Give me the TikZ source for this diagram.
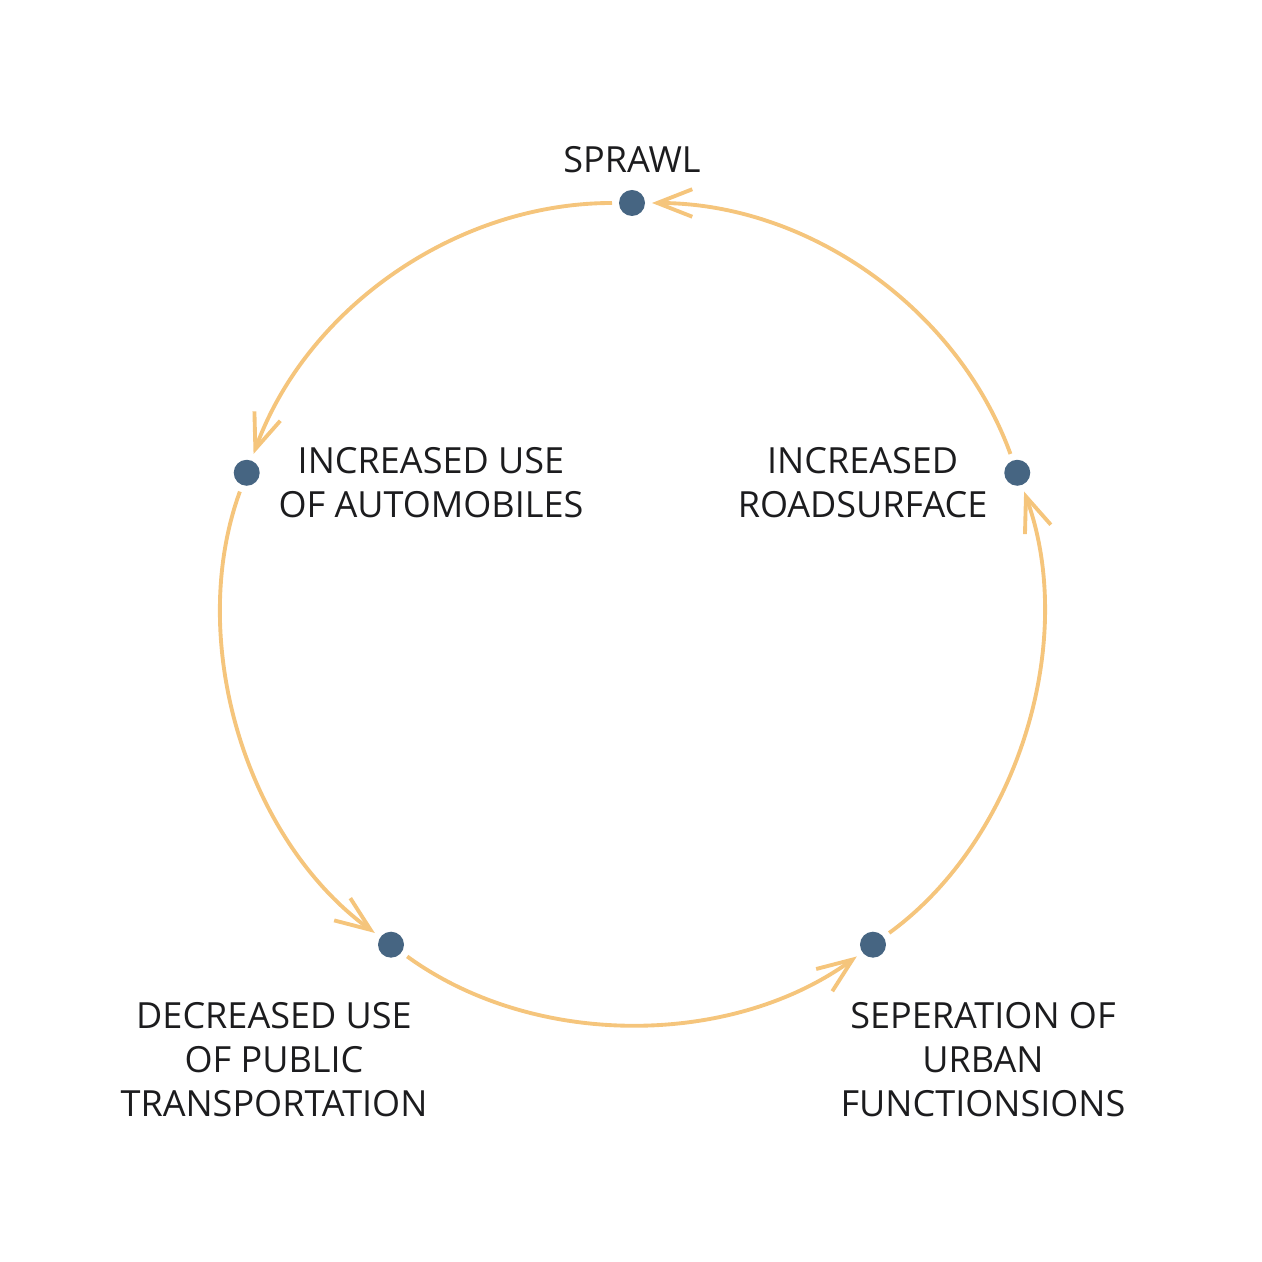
\documentclass[tikz,border=0pt]{standalone}
\usepackage{fontspec}
\setmainfont{Open Sans}
\usepackage{tikz}
\usetikzlibrary{arrows.meta, positioning}
\definecolor{myorange}{RGB}{245,197,124}
\definecolor{mysteel}{RGB}{70,101,130}
\definecolor{mytext}{RGB}{28,28,30}
\tikzset{
  dot/.style={circle, fill=mysteel, minimum size=0.52cm, inner sep=0pt,
    outer sep=0.14cm},
  lbl/.style={align=center, text=mytext, inner sep=0pt,
    font=\fontsize{20.5}{25}\selectfont},
  cyc/.style={-{Straight Barb[length=0.7cm, width=0.55cm]}, line width=2.2pt,
    color=myorange}
}
\begin{document}
\begin{tikzpicture}
\useasboundingbox (-12.64,-12.98) rectangle (12.60,12.26);
\node[dot] (sprawl) at (90:8.2) {};
\node[dot] (auto) at (160:8.2) {};
\node[dot] (decr) at (234:8.2) {};
\node[dot] (sep) at (306:8.2) {};
\node[dot] (road) at (20:8.2) {};

\node[lbl, above=0.2cm of sprawl] (sprawltxt) {SPRAWL};
\node[lbl, right=0.23cm of auto, yshift=-0.2cm] (autotxt) {INCREASED USE\\OF AUTOMOBILES};
\node[lbl, left=0.19cm of road, yshift=-0.2cm] (roadtxt) {INCREASED\\ROADSURFACE};
\node[lbl, below=0.75cm of decr, xshift=-2.34cm] (decrtxt) {DECREASED USE\\OF PUBLIC\\TRANSPORTATION};
\node[lbl, below=0.75cm of sep, xshift=2.2cm] (septxt) {SEPERATION OF\\URBAN\\FUNCTIONSIONS};

\draw[cyc] (sprawl) to[bend right=35, looseness=0.91] (auto);
\draw[cyc] (auto) to[bend right=37, looseness=0.88] (decr);
\draw[cyc] (decr) to[bend right=36, looseness=0.89] (sep);
\draw[cyc] (sep) to[bend right=37, looseness=0.88] (road);
\draw[cyc] (road) to[bend right=35, looseness=0.91] (sprawl);
\end{tikzpicture}
\end{document}
